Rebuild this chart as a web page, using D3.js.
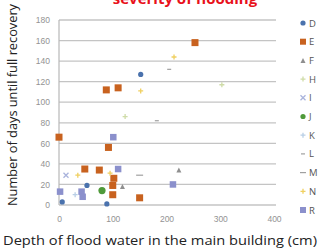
<!DOCTYPE html>
<html>
<head>
<meta charset="utf-8">
<script src="https://cdn.jsdelivr.net/npm/d3@7"></script>
<style>
  body { margin: 0; background: #fff; }
  svg { display: block; font-family: "Open Sans", sans-serif; }
</style>
</head>
<body>
<div id="chart"></div>
<script>
// series data: [depth of flood water (cm), days until full recovery]
var seriesNames = ["D", "E", "F", "H", "I", "J", "K", "L", "M", "N", "R"];
var dataD = [[152, 127], [6, 3], [52, 19], [89, 1]];
var dataE = [[0, 66], [88, 112], [110, 114], [92, 56], [48, 35], [75, 34], [102, 26], [100, 19], [100, 10], [150, 7], [253, 158]];
var dataF = [[118, 18], [223, 34]];
var dataH = [[123, 86], [303, 117]];
var dataI = [[13, 29]];
var dataJ = [[80, 14]];
var dataK = [[30, 10]];
var dataL = [[205, 132], [182, 82]];
var dataM = [[150, 29]];
var dataN = [[35, 29], [95, 31], [152, 111], [214, 144]];
var dataR = [[2, 13], [42, 13], [44, 8], [110, 35], [212, 20], [101, 66]];
var xTicks = [0, 100, 200, 300, 400];
var yTicks = [0, 20, 40, 60, 80, 100, 120, 140, 160, 180];

var allData = [dataD, dataE, dataF, dataH, dataI, dataJ, dataK, dataL, dataM, dataN, dataR];

var svgWidth = 320, svgHeight = 249;
var margin = { top: 20, left: 59, right: 46, bottom: 44 };
var width = 274 - margin.left;
var height = 205 - margin.top;

var svg = d3.select("#chart").append("svg")
  .attr("width", svgWidth)
  .attr("height", svgHeight);

var g = svg.append("g")
  .attr("transform", `translate(${margin.left}, ${margin.top})`);

var x = d3.scaleLinear().domain([0, 400]).range([0, width]);
var y = d3.scaleLinear().domain([0, 180]).range([height, 0]);

// marker styles per series
var styles = {
  D: { shape: "circle", size: 2.6, fill: "#4a72ad" },
  E: { shape: "square", size: 7, fill: "#c8621f" },
  F: { shape: "triangle", size: 5, fill: "#8f8f8f" },
  H: { shape: "cross", size: 5, fill: "#cfdca8" },
  I: { shape: "x", size: 5, fill: "#a9b3dc" },
  J: { shape: "circle", size: 3.6, fill: "#4f9a3a" },
  K: { shape: "plus", size: 5, fill: "#b9cfe6" },
  L: { shape: "dash", size: 4, fill: "#a0a0a0" },
  M: { shape: "dash", size: 7, fill: "#a0a0a0" },
  N: { shape: "plus", size: 5, fill: "#f0d060" },
  R: { shape: "square", size: 6.5, fill: "#8b90cc" }
};

// gridlines
g.selectAll(".grid")
  .data(yTicks)
  .enter()
  .append("line")
  .attr("x1", 0)
  .attr("x2", width + 2)
  .attr("y1", d => y(d))
  .attr("y2", d => y(d))
  .attr("stroke", "#c4c4c4")
  .attr("stroke-width", 1.3);

// y axis line
g.append("line")
  .attr("x1", 0).attr("x2", 0)
  .attr("y1", 0).attr("y2", height)
  .attr("stroke", "#b8b8b8")
  .attr("stroke-width", 1.2);

var yAxis = d3.axisLeft(y).tickValues(yTicks).tickSize(0).tickPadding(9);
var xAxis = d3.axisBottom(x).tickValues(xTicks).tickSize(0).tickPadding(11);

g.append("g").call(yAxis)
  .call(a => a.select(".domain").remove())
  .selectAll("text")
  .style("font-size", "8.5px")
  .style("fill", "#939393");

g.append("g")
  .attr("transform", `translate(0, ${height})`)
  .call(xAxis)
  .call(a => a.select(".domain").remove())
  .selectAll("text")
  .style("font-size", "8.5px")
  .style("fill", "#939393");

function drawMarker(sel, st) {
  var s = st.size;
  if (st.shape == "circle") {
    sel.append("circle").attr("r", s).attr("fill", st.fill);
  } else if (st.shape == "square") {
    sel.append("rect").attr("x", -s / 2).attr("y", -s / 2)
      .attr("width", s).attr("height", s).attr("fill", st.fill);
  } else if (st.shape == "triangle") {
    sel.append("path").attr("d", `M0,${-s / 2}L${s / 2},${s / 2}L${-s / 2},${s / 2}Z`).attr("fill", st.fill);
  } else if (st.shape == "x") {
    sel.append("path").attr("d", `M${-s / 2},${-s / 2}L${s / 2},${s / 2}M${s / 2},${-s / 2}L${-s / 2},${s / 2}`)
      .attr("stroke", st.fill).attr("stroke-width", 1.3);
  } else if (st.shape == "plus" || st.shape == "cross") {
    sel.append("path").attr("d", `M${-s / 2},0L${s / 2},0M0,${-s / 2}L0,${s / 2}`)
      .attr("stroke", st.fill).attr("stroke-width", 1.3);
  } else if (st.shape == "dash") {
    sel.append("path").attr("d", `M${-s / 2},0L${s / 2},0`)
      .attr("stroke", st.fill).attr("stroke-width", 1.2);
  }
}

// points
seriesNames.forEach(function(name, i) {
  var st = styles[name];
  g.selectAll(".pt" + name)
    .data(allData[i])
    .enter()
    .append("g")
    .attr("class", "pt" + name)
    .attr("transform", d => `translate(${x(d[0])}, ${y(d[1])})`)
    .each(function() { drawMarker(d3.select(this), st); });
});

// legend
var legendY = d3.scalePoint().domain(seriesNames).range([23, 210]);
var legend = svg.append("g");
seriesNames.forEach(function(name) {
  var st = styles[name];
  var item = legend.append("g")
    .attr("transform", `translate(303, ${legendY(name)})`);
  var lst = Object.assign({}, st, { size: st.shape == "circle" ? Math.min(st.size, 2.6) : Math.min(st.size, 6) });
  drawMarker(item, lst);
  item.append("text")
    .attr("x", 6)
    .attr("y", 3.5)
    .style("font-size", "9.5px")
    .style("fill", "#555")
    .text(name);
});

// title (cut off at top as in the source)
svg.append("text")
  .attr("x", 185)
  .attr("y", 4)
  .attr("text-anchor", "middle")
  .style("font-size", "15px")
  .style("font-weight", "bold")
  .style("fill", "#e8111b")
  .text("severity of flooding");

// axis titles
svg.append("text")
  .attr("transform", "translate(17, 105) rotate(-90)")
  .attr("text-anchor", "middle")
  .attr("textLength", 202)
  .attr("lengthAdjust", "spacingAndGlyphs")
  .style("font-size", "12.8px")
  .style("fill", "#222")
  .text("Number of days until full recovery");

svg.append("text")
  .attr("x", 160)
  .attr("y", 245)
  .attr("text-anchor", "middle")
  .attr("textLength", 314)
  .attr("lengthAdjust", "spacingAndGlyphs")
  .style("font-size", "12.8px")
  .style("fill", "#222")
  .text("Depth of flood water in the main building (cm)");
</script>
</body>
</html>
